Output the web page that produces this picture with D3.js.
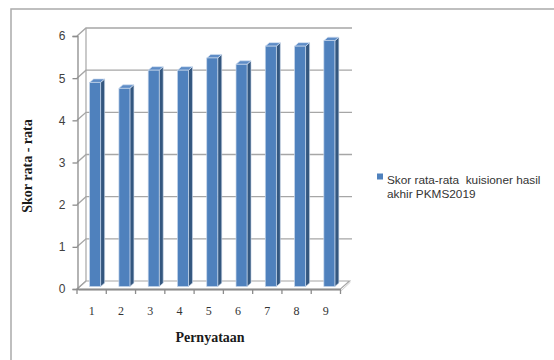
<!DOCTYPE html>
<html>
<head>
<meta charset="utf-8">
<script src="https://cdn.jsdelivr.net/npm/d3@7"></script>
<style>
  html, body { margin: 0; padding: 0; background: #fff; }
  svg { display: block; }
</style>
</head>
<body>
<svg id="chart" width="554" height="360"></svg>
<script>
// Average questionnaire score per statement
const categories = ["1", "2", "3", "4", "5", "6", "7", "8", "9"];
const scores = [4.84, 4.70, 5.13, 5.13, 5.42, 5.27, 5.70, 5.70, 5.83];
const yTicks = [0, 1, 2, 3, 4, 5, 6];
const seriesName = ["Skor rata-rata  kuisioner hasil", "akhir PKMS2019"];
const yTitle = "Skor rata - rata";
const xTitle = "Pernyataan";

const svg = d3.select("#chart");

// outer frame (open on the right and bottom)
svg.append("rect")
  .attr("x", 11).attr("y", 9).attr("width", 600).attr("height", 400)
  .attr("fill", "none").attr("stroke", "#ababab").attr("stroke-width", 1.5);

// plot geometry: front plane and the depth of the 3-D box
const x = d3.scaleBand().domain(categories).range([77, 340.5]);
const y = d3.scaleLinear().domain([0, 6]).range([289, 36]);
const depth = { dx: 9, dy: -8 };
const wallRight = 352;
const barW = 11;
const barShift = { dx: 3.5, dy: -2.5 };
const barDepth = { dx: 4, dy: -3.5 };
const gridColor = "#a6a6a6";

// floor plate
const x0 = x.range()[0], x1 = x.range()[1];
const floor = [[x0, y(0)], [x1, y(0)], [x1 + depth.dx, y(0) + depth.dy], [x0 + depth.dx, y(0) + depth.dy]];
svg.append("polygon")
  .attr("points", floor.map(p => p.join(",")).join(" "))
  .attr("fill", "#ffffff").attr("stroke", gridColor).attr("stroke-width", 1.2);
svg.append("path")
  .attr("d", `M${x0 + 2},${y(0) + 1.5} L${x1 + 1},${y(0) + 1.5} L${x1 + depth.dx + 1},${y(0) + depth.dy + 1}`)
  .attr("fill", "none").attr("stroke", "#d0d0d0").attr("stroke-width", 1);

// back wall left edge
svg.append("line")
  .attr("x1", x0 + depth.dx).attr("x2", x0 + depth.dx)
  .attr("y1", y(6) + depth.dy).attr("y2", y(0) + depth.dy)
  .attr("stroke", gridColor).attr("stroke-width", 1.2);

// gridlines on the back wall with the slanted link to the front axis
const grid = svg.append("g").attr("fill", "none").attr("stroke", gridColor).attr("stroke-width", 1.4);
yTicks.filter(t => t > 0).forEach(t => {
  grid.append("path")
    .attr("d", `M${x0},${y(t)} L${x0 + depth.dx},${y(t) + depth.dy} L${wallRight},${y(t) + depth.dy}`);
});
svg.append("line")
  .attr("x1", x0).attr("y1", y(0)).attr("x2", x0 + depth.dx).attr("y2", y(0) + depth.dy)
  .attr("stroke", gridColor).attr("stroke-width", 1.2);

// bars: front, side and top faces
const bars = svg.append("g");
categories.forEach((c, i) => {
  const v = scores[i];
  const fx = x(c) + x.bandwidth() / 2 - barW / 2 + barShift.dx;
  const top = y(v) + barShift.dy;
  const base = y(0) + barShift.dy;
  const g = bars.append("g");
  // side face
  g.append("polygon")
    .attr("points", [[fx + barW, top], [fx + barW + barDepth.dx, top + barDepth.dy],
      [fx + barW + barDepth.dx, base + barDepth.dy], [fx + barW, base]].map(p => p.join(",")).join(" "))
    .attr("fill", "#34577f").attr("stroke", "#c9d7ea").attr("stroke-width", 0.6);
  // top face
  g.append("polygon")
    .attr("points", [[fx, top], [fx + barDepth.dx, top + barDepth.dy],
      [fx + barW + barDepth.dx, top + barDepth.dy], [fx + barW, top]].map(p => p.join(",")).join(" "))
    .attr("fill", "#5e8cc6").attr("stroke", "#d3e0f0").attr("stroke-width", 0.7);
  // front face
  g.append("rect")
    .attr("x", fx).attr("y", top).attr("width", barW).attr("height", base - top)
    .attr("fill", "#4f81bd").attr("stroke", "#c3d4ea").attr("stroke-width", 0.7);
});

// value axis
const yAxis = svg.append("g")
  .attr("transform", `translate(${x0 + 0.5},0)`)
  .call(d3.axisLeft(y).tickValues(yTicks).tickFormat(d3.format("d")).tickSize(5).tickPadding(7));
yAxis.select(".domain").attr("stroke", "#8c8c8c").attr("stroke-width", 1.3);
yAxis.selectAll(".tick line").attr("stroke", "#8c8c8c").attr("stroke-width", 1.3);
yAxis.selectAll(".tick text")
  .attr("font-family", "'Liberation Sans', Arial, sans-serif").attr("font-size", 12).attr("fill", "#404040");

// category axis: ticks on band boundaries, labels at band centres
const xAxis = svg.append("g")
  .attr("transform", `translate(0,${y(0)})`)
  .call(d3.axisBottom(x).tickSize(0).tickPadding(17));
xAxis.select(".domain").attr("stroke", "#8c8c8c").attr("stroke-width", 1.3);
xAxis.selectAll(".tick text")
  .attr("font-family", "'Liberation Serif', 'Times New Roman', serif").attr("font-size", 12).attr("fill", "#333");
const bounds = categories.map(c => x(c)).concat([x1]);
xAxis.selectAll(".bound").data(bounds).join("line")
  .attr("class", "bound")
  .attr("x1", d => d).attr("x2", d => d).attr("y1", 0).attr("y2", 5)
  .attr("stroke", "#8c8c8c").attr("stroke-width", 1.3);

// axis titles
svg.append("text")
  .attr("transform", "translate(32,166) rotate(-90)")
  .attr("text-anchor", "middle")
  .attr("font-family", "'Liberation Serif', 'Times New Roman', serif")
  .attr("font-weight", "bold").attr("font-size", 14).attr("fill", "#1a1a1a")
  .text(yTitle);
svg.append("text")
  .attr("x", 210).attr("y", 342)
  .attr("text-anchor", "middle")
  .attr("font-family", "'Liberation Serif', 'Times New Roman', serif")
  .attr("font-weight", "bold").attr("font-size", 14).attr("fill", "#1a1a1a")
  .text(xTitle);

// legend
const legend = svg.append("g");
legend.append("rect")
  .attr("x", 377).attr("y", 173.5).attr("width", 6).attr("height", 6)
  .attr("fill", "#4f81bd");
legend.selectAll("text").data(seriesName).join("text")
  .attr("x", 387).attr("y", (d, i) => 183.5 + i * 14)
  .style("white-space", "pre")
  .attr("font-family", "'Liberation Sans', Arial, sans-serif")
  .attr("font-size", 11.8).attr("fill", "#333")
  .text(d => d);
</script>
</body>
</html>
